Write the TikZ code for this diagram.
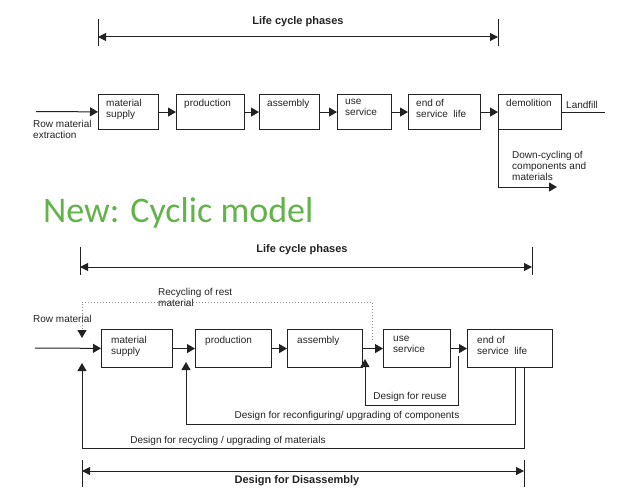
\documentclass[tikz,border=0pt]{standalone}
\usepackage{fontspec}
\setmainfont{Liberation Sans}
\newfontfamily\greenfont{Carlito}
\usetikzlibrary{positioning,arrows.meta}
\definecolor{ink}{HTML}{222222}
\definecolor{dots}{HTML}{8A8A8A}
\definecolor{newgreen}{HTML}{62B34A}

\begin{document}
\begin{tikzpicture}[x=1pt,y=1pt,
  font=\fontsize{10}{11}\selectfont,
  phase/.style={draw=ink,line width=1.1pt,anchor=north west,inner sep=0pt,minimum height=35pt},
  phasetwo/.style={phase,minimum height=38pt},
  intext/.style={anchor=north west,align=left,inner sep=0pt,text=ink},
  flow/.style={draw=ink,line width=1pt,-{Triangle[length=8pt,width=9pt]}},
  restflow/.style={draw=dots,line width=1pt,dotted,-{Triangle[length=8pt,width=9pt,color=ink]}},
  span/.style={draw=ink,line width=1pt,{Triangle[length=8pt,width=8pt]}-{Triangle[length=8pt,width=8pt]}},
  tick/.style={draw=ink,line width=1pt},
  heading/.style={font=\fontsize{11}{13}\selectfont\bfseries,text=ink}]
\useasboundingbox (0,0) rectangle (617,-487);

% linear model
\node[heading] (lcp1) at (298,-22) {Life cycle phases};
\coordinate (lcp1a) at (98,-37);
\coordinate (lcp1b) at (498,-37);
\draw[span] (lcp1a) -- (lcp1b);
\draw[tick] ([yshift=18]lcp1a) -- ([yshift=-9]lcp1a);
\draw[tick] ([yshift=18]lcp1b) -- ([yshift=-9]lcp1b);

\node[phase,minimum width=60pt] (ms1) at (98,-94) {};
\node[phase,minimum width=68pt] (pr1) at (176,-94) {};
\node[phase,minimum width=60pt] (as1) at (259,-94) {};
\node[phase,minimum width=54pt] (us1) at (337,-94) {};
\node[phase,minimum width=72pt] (en1) at (408,-94) {};
\node[phase,minimum width=63pt] (de1) at (498,-94) {};
\node[intext] (ms1t) at ([shift={(8,-5)}]ms1.north west) {material\\supply};
\node[intext] (pr1t) at ([shift={(8,-5)}]pr1.north west) {production};
\node[intext] (as1t) at ([shift={(8,-5)}]as1.north west) {assembly};
\node[intext] (us1t) at ([shift={(8,-5)}]us1.north west) {use\\service};
\node[intext] (en1t) at ([shift={(8,-5)}]en1.north west) {end of\\service~ life};
\node[intext] (de1t) at ([shift={(8,-5)}]de1.north west) {demolition};
\foreach \a/\b in {ms1/pr1,pr1/as1,as1/us1,us1/en1,en1/de1}
  \draw[flow] (\a) -- (\b);

\coordinate (raw1) at (36,-111.5);
\draw[flow] (raw1) -- (ms1);
\node[intext] (raw1t) at (33,-120) {Row material\\extraction};

\coordinate (lf1) at (605,-112.5);
\draw[tick] (de1.east |- lf1) -- (lf1);
\node[intext] (lf1t) at (566,-101) {Landfill};

\coordinate (dc1) at (557,-187);
\draw[flow] (de1.south west) |- (dc1);
\node[intext] (dc1t) at (512,-151) {Down-cycling of\\components and\\materials};

\node[anchor=base west,inner sep=0pt,text=newgreen,font=\greenfont\fontsize{36}{40}\selectfont] (newt) at (43,-222) {New: Cyclic model};

% cyclic model
\node[heading] (lcp2) at (302,-250) {Life cycle phases};
\coordinate (lcp2a) at (80,-267);
\coordinate (lcp2b) at (532,-267);
\draw[span] (lcp2a) -- (lcp2b);
\draw[tick] ([yshift=20]lcp2a) -- ([yshift=-8]lcp2a);
\draw[tick] ([yshift=20]lcp2b) -- ([yshift=-8]lcp2b);

\node[phasetwo,minimum width=71pt] (ms2) at (101,-329) {};
\node[phasetwo,minimum width=76pt] (pr2) at (195,-329) {};
\node[phasetwo,minimum width=75pt] (as2) at (287,-329) {};
\node[phasetwo,minimum width=67pt] (us2) at (383,-329) {};
\node[phasetwo,minimum width=85pt] (en2) at (467,-329) {};
\node[intext] (ms2t) at ([shift={(10,-7)}]ms2.north west) {material\\supply};
\node[intext] (pr2t) at ([shift={(10,-7)}]pr2.north west) {production};
\node[intext] (as2t) at ([shift={(10,-7)}]as2.north west) {assembly};
\node[intext] (us2t) at ([shift={(10,-7)}]us2.north west) {use\\service};
\node[intext] (en2t) at ([shift={(10,-7)}]en2.north west) {end of\\service~ life};
\foreach \a/\b in {ms2/pr2,pr2/as2,as2/us2,us2/en2}
  \draw[flow] (\a) -- (\b);

\coordinate (raw2) at (35,-348);
\draw[flow] (raw2) -- (ms2);
\node[intext] (raw2t) at (33,-315) {Row material};

\coordinate (rr1) at (372,-340);
\coordinate (rr2) at (82,-302);
\coordinate (rr3) at (82,-338);
\draw[restflow] (rr1) |- (rr2) -- (rr3);
\node[intext] (rr1t) at (158,-288) {Recycling of rest\\material};

\coordinate (rus) at (458,-356);
\coordinate (ru) at (458,-405);
\coordinate (rutip) at (365,-359);
\draw[flow] (rus) -- (ru) -| (rutip);
\node[text=ink] (rut) at (410,-397) {Design for reuse};

\coordinate (rcf) at (515,-424);
\coordinate (rcftip) at (186,-362);
\draw[flow] (en2.south -| rcf) -- (rcf) -| (rcftip);
\node[text=ink] (rcft) at (347,-416) {Design for reconfiguring/ upgrading of components};

\coordinate (rcy) at (524,-448);
\coordinate (rcytip) at (82,-363);
\draw[flow] (en2.south -| rcy) -- (rcy) -| (rcytip);
\node[text=ink] (rcyt) at (228,-441) {Design for recycling / upgrading of materials};

\coordinate (dfda) at (82,-471);
\coordinate (dfdb) at (524,-471);
\draw[span] (dfda) -- (dfdb);
\draw[tick] ([yshift=11]dfda) -- ([yshift=-16]dfda);
\draw[tick] ([yshift=11]dfdb) -- ([yshift=-16]dfdb);
\node[heading] (dfdt) at (297,-481) {Design for Disassembly};
\end{tikzpicture}
\end{document}
